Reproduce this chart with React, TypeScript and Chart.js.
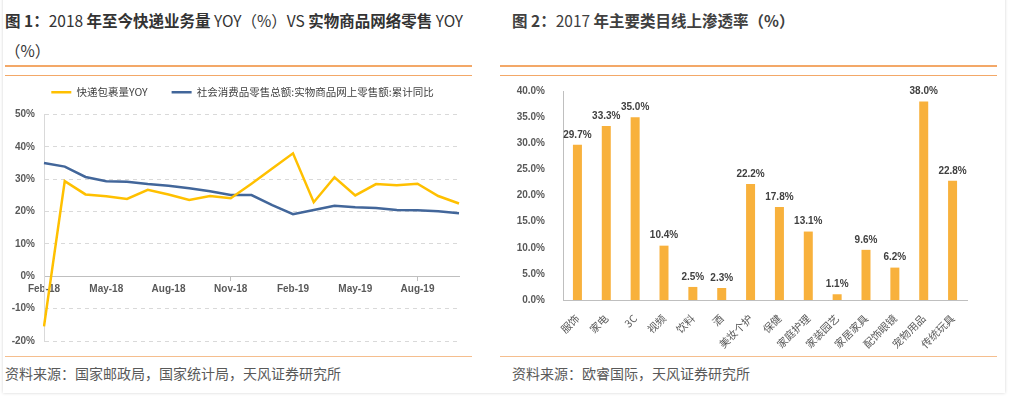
import React, { useEffect, useRef } from 'react';
import { Chart, registerables } from 'chart.js';

Chart.register(...registerables);

// ---------- Data: Figure 1 ----------
const months = [
  'Feb-18', 'Mar-18', 'Apr-18', 'May-18', 'Jun-18', 'Jul-18', 'Aug-18', 'Sep-18', 'Oct-18', 'Nov-18',
  'Dec-18', 'Jan-19', 'Feb-19', 'Mar-19', 'Apr-19', 'May-19', 'Jun-19', 'Jul-19', 'Aug-19', 'Sep-19', 'Oct-19',
];
const parcelYoy = [
  -15.5, 29.4, 25.3, 24.7, 23.9, 26.7, 25.3, 23.6, 24.8, 24.1,
  28.6, 33.3, 38.0, 22.9, 30.6, 25.0, 28.5, 28.1, 28.6, 24.8, 22.5,
];
const onlineRetailYoy = [
  35.0, 33.9, 30.7, 29.4, 29.2, 28.5, 28.0, 27.2, 26.3, 25.1,
  25.1, 22.0, 19.2, 20.5, 21.8, 21.3, 21.1, 20.5, 20.4, 20.1, 19.5,
];
const shownMonthTicks = ['Feb-18', 'May-18', 'Aug-18', 'Nov-18', 'Feb-19', 'May-19', 'Aug-19'];
const seriesNames = ['快递包裹量YOY', '社会消费品零售总额:实物商品网上零售额:累计同比'];

// ---------- Data: Figure 2 ----------
const categories = [
  '服饰', '家电', '3C', '视频', '饮料', '酒', '美妆个护', '保健',
  '家庭护理', '家装园艺', '家居家具', '配饰眼镜', '宠物用品', '传统玩具',
];
const penetration = [29.7, 33.3, 35.0, 10.4, 2.5, 2.3, 22.2, 17.8, 13.1, 1.1, 9.6, 6.2, 38.0, 22.8];

const FONT = 'Arial, "Liberation Sans", "Noto Sans CJK SC", sans-serif';
const CJK = '"Noto Sans CJK SC", "Microsoft YaHei", sans-serif';
const ORANGE = '#F3A868';

function LineChart() {
  const ref = useRef<HTMLCanvasElement>(null);
  useEffect(() => {
    if (!ref.current) return;
    const legendTweak = {
      id: 'legendTweak',
      beforeInit(chart: any) {
        const lg = chart.legend;
        if (!lg) return;
        const fit = lg.fit;
        lg.fit = function () {
          fit.call(this);
          this.height += 7;
        };
      },
      afterLayout(chart: any) {
        const lg = chart.legend;
        if (!lg) return;
        lg.left += 13;
        lg.right += 13;
      },
    };
    const chart = new Chart(ref.current, {
      type: 'line',
      data: {
        labels: months,
        datasets: [
          {
            label: seriesNames[0],
            data: parcelYoy,
            borderColor: '#FFC000',
            backgroundColor: '#FFC000',
            borderWidth: 2.5,
            pointRadius: 0,
            tension: 0,
          },
          {
            label: seriesNames[1],
            data: onlineRetailYoy,
            borderColor: '#42669A',
            backgroundColor: '#42669A',
            borderWidth: 2.5,
            pointRadius: 0,
            tension: 0,
          },
        ],
      },
      options: {
        animation: false,
        responsive: false,
        layout: { padding: { top: 0, right: 16, bottom: 0, left: 0 } },
        plugins: {
          legend: {
            position: 'top',
            labels: {
              usePointStyle: true,
              pointStyle: 'line',
              pointStyleWidth: 20,
              padding: 24,
              color: '#404040',
              font: { family: CJK, size: 10.5 },
            },
          },
          tooltip: { enabled: false },
        },
        scales: {
          x: {
            position: { y: 0 } as any,
            offset: false,
            grid: {
              display: true,
              drawOnChartArea: false,
              drawTicks: true,
              tickLength: 4,
              color: (ctx: any) => (ctx.index % 3 === 0 ? '#BFBFBF' : 'rgba(0,0,0,0)'),
            },
            border: { display: true, color: '#BFBFBF', width: 1 },
            ticks: {
              autoSkip: false,
              maxRotation: 0,
              minRotation: 0,
              padding: 3,
              color: '#595959',
              font: { family: FONT, size: 10, weight: 'bold' },
              callback: function (this: any, _v: any, i: number) {
                const lab = months[i];
                return shownMonthTicks.includes(lab) ? lab : null;
              },
            },
          },
          y: {
            min: -20,
            max: 50,
            grid: { color: '#D9D9D9', drawTicks: false, lineWidth: 1 },
            border: { display: true, color: '#D9D9D9', dash: [4, 4] },
            ticks: {
              stepSize: 10,
              padding: 9,
              color: '#595959',
              font: { family: FONT, size: 10, weight: 'bold' },
              callback: (v: any) => `${v}%`,
            },
            afterFit: (scale: any) => {
              scale.width = 44;
            },
          },
        },
      },
      plugins: [legendTweak],
    });
    return () => chart.destroy();
  }, []);
  return (
    <canvas
      ref={ref}
      width={475}
      height={293}
      style={{ position: 'absolute', left: 0, top: 63, width: 475, height: 293 }}
    />
  );
}

function BarChart() {
  const ref = useRef<HTMLCanvasElement>(null);
  useEffect(() => {
    if (!ref.current) return;
    const barValueLabels = {
      id: 'barValueLabels',
      afterDatasetsDraw(chart: any) {
        const { ctx } = chart;
        const meta = chart.getDatasetMeta(0);
        const values = chart.data.datasets[0].data as number[];
        ctx.save();
        ctx.font = `bold 10px ${FONT}`;
        ctx.fillStyle = '#404040';
        ctx.textAlign = 'center';
        ctx.textBaseline = 'bottom';
        meta.data.forEach((bar: any, i: number) => {
          ctx.fillText(`${values[i].toFixed(1)}%`, bar.x, bar.y - 5);
        });
        ctx.restore();
      },
    };
    const chart = new Chart(ref.current, {
      type: 'bar',
      data: {
        labels: categories,
        datasets: [
          {
            label: '线上渗透率',
            data: penetration,
            backgroundColor: '#F8B13C',
            borderWidth: 0,
            categoryPercentage: 0.8,
            barPercentage: 0.39,
          },
        ],
      },
      options: {
        animation: false,
        responsive: false,
        layout: { padding: { top: 0, right: 33, bottom: 0, left: 0 } },
        plugins: { legend: { display: false }, tooltip: { enabled: false } },
        scales: {
          x: {
            grid: { display: false },
            border: { display: true, color: '#BFBFBF' },
            ticks: {
              autoSkip: false,
              maxRotation: 45,
              minRotation: 45,
              padding: 4,
              color: '#595959',
              font: { family: CJK, size: 10.5 },
            },
            afterFit: (scale: any) => {
              scale.height = 55;
            },
          },
          y: {
            min: 0,
            max: 40,
            grid: { display: false },
            border: { display: true, color: '#BFBFBF' },
            ticks: {
              stepSize: 5,
              padding: 10,
              color: '#595959',
              font: { family: FONT, size: 10, weight: 'bold' },
              callback: (v: any) => `${Number(v).toFixed(1)}%`,
            },
            afterFit: (scale: any) => {
              scale.width = 63;
            },
          },
        },
      },
      plugins: [barValueLabels],
    });
    return () => chart.destroy();
  }, []);
  return (
    <canvas
      ref={ref}
      width={500}
      height={280}
      style={{ position: 'absolute', left: 500, top: 75, width: 500, height: 280 }}
    />
  );
}

const hline = (left: number, top: number, width: number, color: string) => (
  <div style={{ position: 'absolute', left, top, width, height: 1.5, background: color }} />
);

export default function App() {
  const bold = { fontWeight: 700 as const };
  const reg = { fontWeight: 400 as const };
  return (
    <div
      style={{
        position: 'absolute',
        left: 0,
        top: 0,
        width: 1019,
        height: 399,
        background: '#fff',
        overflow: 'hidden',
        fontFamily: CJK,
      }}
    >
      <div
        style={{
          position: 'absolute',
          left: 3,
          top: -10,
          width: 1002,
          height: 403,
          boxShadow: '0 0 3px rgba(0,0,0,0.18)',
          background: '#fff',
        }}
      />
      {/* Figure 1 title */}
      <div
        style={{
          position: 'absolute',
          left: 5,
          top: 5,
          fontSize: 15.5,
          lineHeight: '30px',
          color: '#333',
          whiteSpace: 'nowrap',
        }}
      >
        <span style={bold}>图 1：</span>
        <span style={reg}>2018 </span>
        <span style={bold}>年至今快递业务量</span>
        <span style={reg}> YOY（%）VS </span>
        <span style={bold}>实物商品网络零售</span>
        <span style={reg}> YOY</span>
        <br />
        <span style={reg}>（%）</span>
      </div>
      {/* Figure 2 title */}
      <div
        style={{
          position: 'absolute',
          left: 512,
          top: 5,
          fontSize: 15.5,
          lineHeight: '30px',
          color: '#404040',
          whiteSpace: 'nowrap',
        }}
      >
        <span style={bold}>图 2：</span>
        <span style={reg}>2017 </span>
        <span style={bold}>年主要类目线上渗透率（%）</span>
      </div>
      {hline(5, 65, 467, ORANGE)}
      {hline(5, 74.5, 467, ORANGE)}
      {hline(500, 65, 497, ORANGE)}
      {hline(500, 74.5, 497, ORANGE)}
      <LineChart />
      <BarChart />
      {hline(5, 355.5, 467, '#F5BE8E')}
      {hline(500, 355.5, 497, '#F5BE8E')}
      <div
        style={{
          position: 'absolute',
          left: 5,
          top: 363,
          fontSize: 14,
          lineHeight: '20px',
          color: '#595959',
          whiteSpace: 'nowrap',
        }}
      >
        资料来源：国家邮政局，国家统计局，天风证券研究所
      </div>
      <div
        style={{
          position: 'absolute',
          left: 512,
          top: 363,
          fontSize: 14,
          lineHeight: '20px',
          color: '#595959',
          whiteSpace: 'nowrap',
        }}
      >
        资料来源：欧睿国际，天风证券研究所
      </div>
    </div>
  );
}
